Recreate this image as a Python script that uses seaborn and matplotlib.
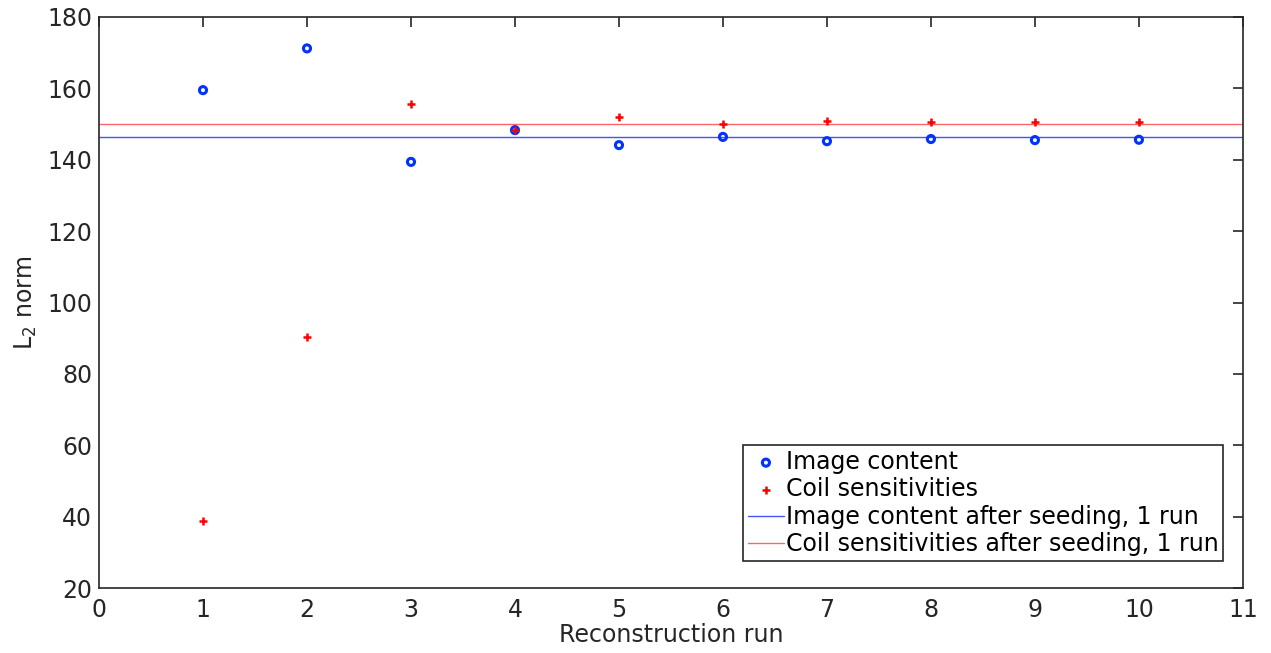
import numpy as np
import pandas as pd
import matplotlib
matplotlib.use('Agg')
import matplotlib.pyplot as plt
import seaborn as sns

# data
runs = [1, 2, 3, 4, 5, 6, 7, 8, 9, 10]
image_content = [159.5, 171.2, 139.4, 148.3, 144.1, 146.4, 145.2, 145.8, 145.5, 145.6]
coil_sens = [38.8, 90.3, 155.6, 148.2, 152.0, 150.0, 150.9, 150.5, 150.7, 150.5]
image_seeded = 146.5
coil_seeded = 150.1

labels = ['Image content', 'Coil sensitivities',
          'Image content after seeding, 1 run',
          'Coil sensitivities after seeding, 1 run']

sns.set_style('white')
plt.rcParams['font.family'] = ['DejaVu Sans']
plt.rcParams['mathtext.default'] = 'regular'
axcol = '0.15'

fig = plt.figure(figsize=(12.71, 6.53), dpi=100)
ax = fig.add_axes([0.0779, 0.0995, 0.9, 0.8745])

df = pd.DataFrame({'run': runs, 'img': image_content, 'coil': coil_sens})

sns.scatterplot(data=df, x='run', y='img', ax=ax, marker='o', s=26,
                facecolor='none', edgecolor='#0033ff', linewidth=2.2,
                label=labels[0], zorder=3)
sns.scatterplot(data=df, x='run', y='coil', ax=ax, marker='+', s=36,
                color='#ff0000', linewidth=1.8, label=labels[1], zorder=4)
ax.axhline(image_seeded, color='#4455ff', linewidth=1.0, label=labels[2])
ax.axhline(coil_seeded, color='#ff6666', linewidth=1.0, label=labels[3])

ax.set_xlim(0, 11)
ax.set_ylim(20, 180)
ax.set_xticks(range(0, 12))
ax.set_yticks(range(20, 181, 20))
ax.set_xlabel('Reconstruction run', fontsize=17, color=axcol, labelpad=1)
ax.set_ylabel('L$_2$ norm', fontsize=17, color=axcol, labelpad=6)
ax.tick_params(direction='in', top=True, right=True, length=7, width=1.2,
               labelsize=17, colors=axcol)
ax.tick_params(axis='x', pad=7)
ax.tick_params(axis='y', pad=5)
for sp in ax.spines.values():
    sp.set_visible(True)
    sp.set_color(axcol)
    sp.set_linewidth(1.2)

leg = ax.legend(loc='lower right', bbox_to_anchor=(0.983, 0.047),
                fontsize=17, frameon=True, fancybox=False, framealpha=1,
                edgecolor=axcol, borderpad=0.2, labelspacing=0.15,
                handlelength=1.5, handletextpad=0.1, borderaxespad=0)
leg.get_frame().set_linewidth(1.2)
for t in leg.get_texts():
    t.set_color('black')

fig.savefig('out.png', dpi=100)
